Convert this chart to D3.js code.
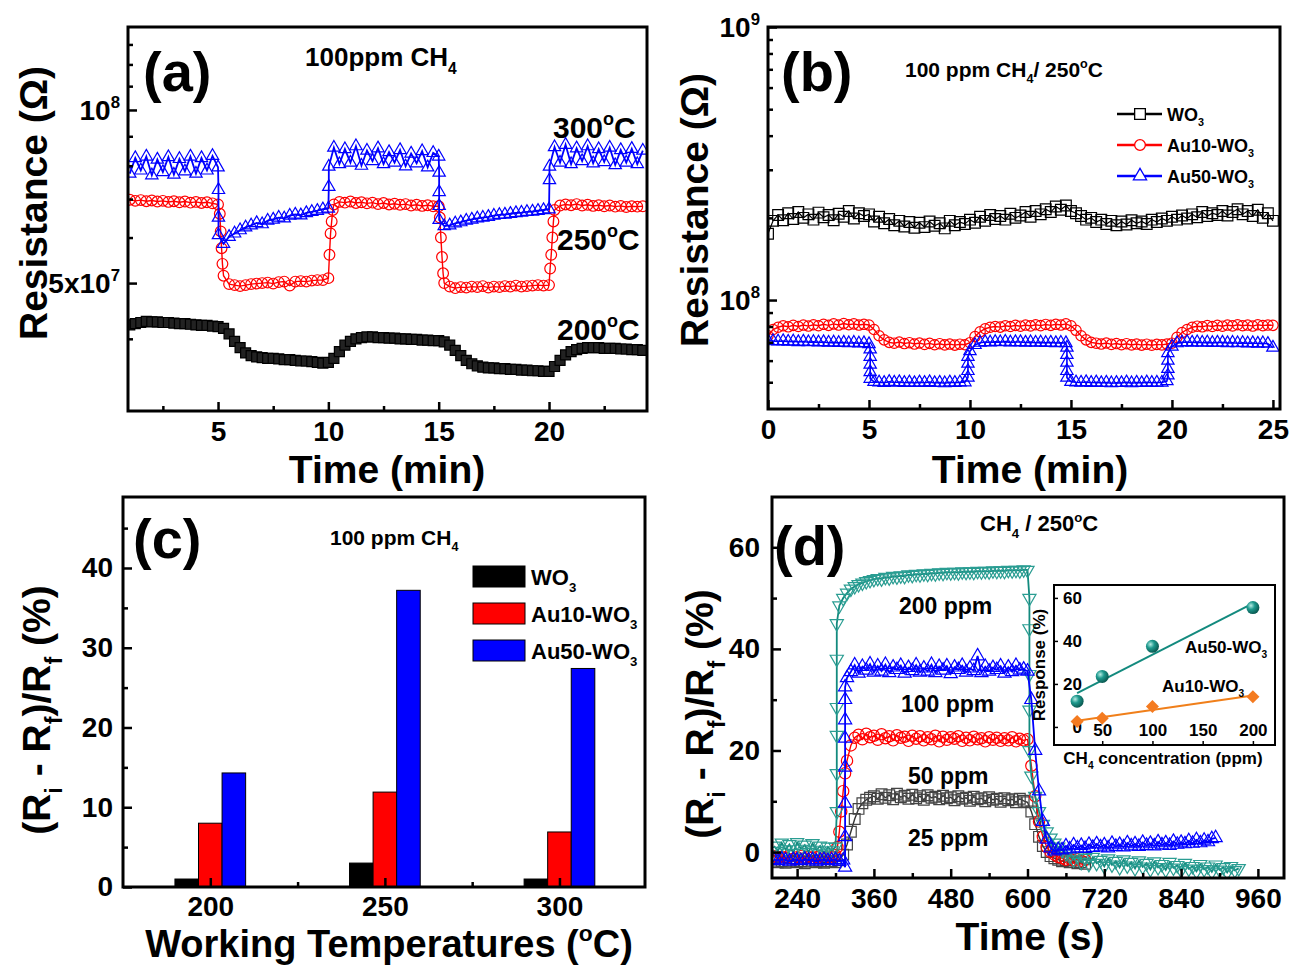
<!DOCTYPE html>
<html><head><meta charset="utf-8">
<script src="https://cdn.jsdelivr.net/npm/d3@7"></script>
<style>
body{margin:0;background:#fff}
text{font-family:"Liberation Sans",Arial,sans-serif;font-weight:bold;fill:#000}
</style></head>
<body><svg id="c" width="1291" height="965"></svg>
<script>
// ================= DATA =================
// Panel (a): resistance (x1e7 ohm) vs time (min), sampled every 0.25 min from 1 min
const aStart = 1, aStep = 0.25;
const a200 = [4.23,4.25,4.27,4.29,4.28,4.28,4.27,4.27,4.26,4.25,4.25,4.24,4.23,4.22,4.22,4.21,4.20,
 4.17,4.08,3.96,3.86,3.78,3.74,3.72,3.71,3.70,3.70,3.69,3.68,3.68,3.67,3.66,3.66,3.65,3.64,3.63,
 3.64,3.70,3.80,3.90,3.96,4.00,4.02,4.03,4.03,4.02,4.02,4.01,4.01,4.00,4.00,3.99,3.99,3.98,3.98,3.97,3.97,
 3.95,3.90,3.82,3.74,3.67,3.62,3.59,3.57,3.56,3.56,3.55,3.55,3.54,3.54,3.53,3.53,3.52,3.52,3.51,3.51,
 3.58,3.67,3.75,3.80,3.83,3.85,3.86,3.86,3.86,3.85,3.85,3.85,3.84,3.84,3.83,3.83,3.82];
const a250 = [6.98,6.95,6.97,6.94,6.96,6.93,6.95,6.92,6.94,6.91,6.93,6.90,6.92,6.89,6.91,6.88,6.85,
 5.15,4.98,4.96,4.94,4.96,4.98,4.99,5.00,5.01,4.99,5.02,5.03,4.95,5.03,5.04,5.03,5.05,5.06,5.06,
 5.10,6.85,6.92,6.90,6.93,6.89,6.91,6.88,6.90,6.86,6.89,6.85,6.87,6.84,6.86,6.82,6.84,6.81,6.83,6.80,6.80,
 5.00,4.93,4.90,4.92,4.91,4.93,4.92,4.94,4.91,4.93,4.92,4.94,4.93,4.95,4.93,4.94,4.95,4.96,4.95,4.96,
 6.70,6.82,6.85,6.83,6.86,6.82,6.84,6.81,6.83,6.80,6.82,6.79,6.81,6.78,6.80,6.79,6.80];
const a250Extra = [[5.08,[6.6]],[5.12,[6.15]],[5.16,[5.75]],[5.2,[5.4]],
 [10.05,[5.6]],[10.1,[6.1]],[10.15,[6.4]],[10.2,[6.7]],
 [15.05,[6.5]],[15.1,[6.0]],[15.15,[5.55]],[15.2,[5.2]],
 [20.05,[5.3]],[20.1,[5.6]],[20.15,[6.0]],[20.2,[6.4]]];
const a300 = [7.75,8.25,7.85,8.30,7.70,8.20,7.80,8.28,7.72,8.22,7.82,8.30,7.75,8.25,7.85,8.32,7.95,
 5.85,6.02,6.10,6.18,6.25,6.30,6.36,6.33,6.42,6.45,6.50,6.48,6.55,6.58,6.56,6.62,6.65,6.68,6.72,
 6.74,
 8.60,8.05,8.55,8.10,8.65,8.00,8.50,8.15,8.58,8.05,8.45,8.10,8.52,7.98,8.40,8.08,8.48,7.95,8.42,
 8.30,
 6.28,6.30,6.35,6.38,6.42,6.45,6.48,6.50,6.52,6.55,6.57,6.58,6.60,6.62,6.63,6.65,6.66,6.68,6.70,
 6.72,
 8.62,8.10,8.70,8.05,8.58,8.15,8.65,8.08,8.55,8.12,8.60,8.02,8.52,8.10,8.56,8.05,8.50];
const a300Extra = [[5.02,[7.26,6.5,6.06]],[10.02,[7.35,7.97]],[15.02,[7.78,7.2,6.81,6.44]],[20.02,[7.55,7.97]]];
const aXTicks = [5,10,15,20];

// Panel (b): resistance (x1e7 ohm) vs time (min), every 0.25 min from 0
const bStart = 0, bStep = 0.25;
const bWO3 = [17.5,19.5,20.5,19.6,20.8,19.8,21.0,20.0,20.6,19.7,
 20.9,20.1,20.5,19.6,20.7,20.2,21.2,19.9,20.8,20.3,
 20.6,19.4,20.2,19.1,19.8,18.8,19.5,18.6,19.3,18.4,
 19.2,18.5,19.4,18.7,19.1,18.3,19.5,18.8,19.3,19.0,
 19.7,19.2,20.2,19.5,20.5,19.8,20.3,19.7,20.7,20.0,
 20.4,21.0,20.2,21.2,20.6,21.5,21.0,22.0,21.4,22.2,
 21.2,20.8,20.3,19.7,20.0,19.3,19.7,19.0,19.5,18.8,
 19.4,18.9,19.6,19.1,19.4,19.0,19.7,19.3,19.9,19.5,
 20.2,19.7,20.4,19.9,20.6,20.1,21.0,20.3,20.8,20.5,
 21.2,20.4,21.0,21.5,20.6,21.2,20.3,21.4,20.0,20.8,19.5];
const bAu10 = [7.40,7.80,7.95,8.05,7.98,8.08,8.00,8.10,8.03,8.12,
 8.05,8.15,8.08,8.18,8.10,8.20,8.12,8.18,8.10,8.15,
 8.10,7.80,7.40,7.15,7.00,6.95,7.02,6.93,6.98,6.90,
 6.96,6.88,6.94,6.86,6.92,6.85,6.90,6.84,6.89,6.86,
 6.98,7.35,7.65,7.85,7.95,8.00,7.96,8.05,8.00,8.08,
 8.02,8.10,8.04,8.12,8.06,8.14,8.08,8.15,8.10,8.18,
 8.05,7.75,7.40,7.15,7.00,6.95,6.90,6.96,6.88,6.93,
 6.86,6.92,6.85,6.90,6.84,6.89,6.83,6.88,6.85,6.90,
 6.95,7.30,7.60,7.80,7.95,8.02,7.98,8.06,8.00,8.08,
 8.02,8.10,8.04,8.12,8.05,8.10,8.03,8.12,8.06,8.10,8.08];
const bAu50 = [7.10,7.08,7.06,7.08,7.04,7.06,7.02,7.05,7.01,7.03,
 7.00,7.02,6.98,7.00,6.97,6.99,6.95,6.98,6.94,6.96,
 6.90,5.02,5.00,4.98,5.02,4.99,5.01,4.98,5.00,4.97,
 5.00,4.98,5.01,4.97,4.99,4.96,5.00,4.98,5.00,5.00,
 6.50,6.85,6.98,7.02,7.00,7.03,7.01,7.04,7.00,7.02,
 7.02,6.99,7.01,6.98,7.00,6.97,6.99,6.96,6.98,6.96,
 5.02,5.00,4.99,5.01,4.98,5.00,4.97,4.99,4.96,4.98,
 4.97,5.00,4.96,4.99,4.97,5.00,4.98,4.99,4.99,5.05,
 6.75,6.95,7.00,7.02,6.99,7.01,6.98,7.00,6.97,6.99,
 6.99,6.96,6.98,6.95,6.97,6.94,6.96,6.93,6.95,6.92,6.70];
const bAu50Extra = [[5.06,[6.6,6.2,5.8,5.45,5.15]],[9.9,[5.2,5.5,5.85,6.2]],[14.8,[6.7,6.3,5.9,5.5,5.2]],[19.8,[5.3,5.6,6.0,6.4]]];
const bXTicks = [0,5,10,15,20,25];
const bLegend = ["WO3","Au10-WO3","Au50-WO3"];

// Panel (c): response (%) vs working temperature
const cTemps = [200,250,300];
const cWO3  = [1.0,3.0,1.0];
const cAu10 = [8.0,11.9,6.9];
const cAu50 = [14.3,37.2,27.4];
const cYTicks = [0,10,20,30,40];

// Panel (d): response (%) vs time (s), every 6 s from 204 s
const dStart = 204, dStep = 6;
const d25 = [-1.7,-2.0,-1.8,-2.1,-1.9,-1.7,-2.0,-1.8,-2.2,-1.9,-1.7,-2.0,-1.8,-2.1,-1.9,-1.8,-2.0,-1.6,
 -0.5,1.5,4.0,6.5,8.5,9.6,10.3,10.7,
 11.0,10.5,11.4,10.7,11.2,10.4,11.5,10.8,11.1,10.5,11.3,10.6,11.0,10.3,11.2,10.7,10.9,10.4,11.1,10.6,
 10.8,10.2,11.0,10.5,10.7,10.1,10.9,10.4,10.6,10.0,10.8,10.3,10.5,9.9,10.6,10.2,10.4,9.8,10.5,10.1,9.8,
 8.0,5.5,3.0,1.2,0.0,-0.8,
 -1.2,-1.5,-1.8,-1.6,-2.0,-1.9,-2.2,-2.0,-2.3];
const d50 = [-0.8,-1.2,-0.9,-1.1,-0.7,-1.3,-1.0,-0.8,-1.2,-0.9,-1.1,-1.0,-0.8,-1.2,-0.9,-1.0,-0.6,
 4,12,18,21,
 22.5,23.1,22.2,23.3,22.6,22.9,22.1,23.2,22.4,22.8,22.0,23.0,22.5,22.7,21.9,22.9,22.3,22.8,22.0,22.6,
 22.2,22.9,21.8,22.7,22.1,22.6,22.3,22.8,21.9,22.5,22.0,22.7,22.2,22.4,21.8,22.6,22.1,22.5,21.9,22.4,
 22.0,22.6,21.8,22.3,22.0,22.2,
 17,11,6,3,1,0,
 -0.5,-1.0,-1.2,-1.5,-1.3,-1.6,-1.4,-1.7,-1.5];
const d50Extra = [[303,[1]],[309,[8]],[315,[15.5]]];
const d100 = [-1.5,-1.7,-1.4,-1.6,-1.8,-1.5,-1.6,-1.7,-1.4,-1.6,-1.5,-1.8,-1.6,-1.5,-1.7,-1.6,-1.5,-1.8,-1.6,
 34.3,
 35.5,36.8,35.2,36.5,35.8,37.0,35.4,36.6,35.6,36.9,35.3,36.4,35.9,36.7,35.2,36.3,35.7,36.8,35.4,36.2,
 35.6,36.9,35.3,36.5,35.8,36.6,35.1,36.4,35.9,36.7,35.4,36.2,35.7,38.6,35.3,36.5,35.6,36.3,35.9,36.6,
 35.2,36.4,35.5,36.7,35.8,36.0,35.6,
 30,20,12,6,2.5,0.8,0.2,0.5,
 0.4,1.2,0.6,1.4,0.8,1.3,0.7,1.5,0.9,1.6,1.0,1.4,0.8,1.7,1.1,1.5,1.0,1.8,1.2,1.6,
 1.1,1.9,1.3,1.7,1.2,2.0,1.4,1.8,1.3,2.1,1.5,1.9,1.6,2.2,1.7,2.4,1.8,2.3,2.0,2.6,2.8];
const d100Extra = [[315,[-3,3,9.6,16.7,22.4,26,30,32.5]]];
const d200 = [1.2,0.2,1.8,0.5,1.5,-0.2,1.9,0.6,1.4,0.0,1.7,0.4,1.2,-0.3,1.0,0.3,
 1.0,
 48.5,50.0,51.0,51.8,52.3,52.7,53.0,53.3,53.5,
 53.7,53.9,53.8,54.1,54.0,54.3,54.2,54.4,54.3,54.6,54.5,54.7,54.6,54.8,54.7,54.9,54.8,55.0,54.9,55.1,
 55.0,55.1,55.0,55.2,55.1,55.2,55.1,55.3,55.2,55.3,55.2,55.4,55.3,55.4,55.3,55.5,55.4,55.5,55.4,55.6,55.5,
 15.0,11.0,8.0,5.5,4.0,2.8,1.8,1.0,0.3,-0.3,
 -0.8,-1.5,-0.9,-2.0,-1.2,-2.4,-1.0,-2.2,-1.6,-2.8,-1.3,-2.5,-1.8,-3.0,-1.5,-2.7,-2.0,-3.2,-1.7,-2.9,
 -2.2,-3.4,-1.9,-3.0,-2.4,-3.5,-2.0,-3.1,-2.6,-3.6,-2.2,-3.3,-2.8,-3.8,-2.4,-3.4,-2.9,-3.9,-2.5,-3.5,
 -3.0,-4.0,-2.8,-3.6,-3.2];
const d200Extra = [[302,[8,15.5,23,28.5,38,45]],[603,[50,44,35,28,20]]];
const dXTicks = [240,360,480,600,720,840,960];
const dYTicks = [0,20,40,60];
const dLabels = ["200 ppm","100 ppm","50 ppm","25 ppm"];

// Inset of (d): response vs CH4 concentration
const insConc = [25,50,100,200];
const insAu50 = [12,23.5,37.5,55.5];
const insAu10 = [2.5,4,9.5,14];

// ================= HELPERS =================
const svg = d3.select('#c');
svg.append('rect').attr('width',1291).attr('height',965).attr('fill','#fff');
const defs = svg.append('defs');

function build(start, step, vals, extras) {
  const pts = vals.map((v,i)=>({t:start+i*step, v}));
  (extras||[]).forEach(([t,vs])=>vs.forEach(v=>pts.push({t,v})));
  pts.sort((a,b)=>a.t-b.t);
  return pts;
}
function txt(g, x, y, parts, size, opts) {
  opts = opts||{};
  const t = g.append('text').attr('x',x).attr('y',y).attr('font-size',size)
    .attr('text-anchor',opts.anchor||'start');
  if (opts.transform) t.attr('transform',opts.transform);
  if (typeof parts==='string') parts=[[parts]];
  let cur=0;
  parts.forEach(([s,k])=>{
    const off = k==='sub'? size*0.3 : k==='sup'? -size*0.42 : 0;
    const ts = t.append('tspan').text(s).attr('dy', off-cur);
    if (k) ts.attr('font-size', size*0.6);
    cur=off;
  });
  return t;
}
function frame(g, L, T, R, B, id) {
  defs.append('clipPath').attr('id',id).append('rect').attr('x',L).attr('y',T).attr('width',R-L).attr('height',B-T);
  return () => g.append('rect').attr('x',L).attr('y',T).attr('width',R-L).attr('height',B-T)
    .attr('fill','none').attr('stroke','#000').attr('stroke-width',3);
}
function styleAxis(sel, fs) {
  sel.select('.domain').remove();
  sel.selectAll('.tick line').attr('stroke','#000').attr('stroke-width',2.5);
  sel.selectAll('.tick text').attr('font-size',fs).attr('fill','#000')
    .attr('font-family','"Liberation Sans",Arial,sans-serif').attr('font-weight','bold');
}
function xAxes(g, x, B, major, minor, fs, pad, fmt) {
  const a = g.append('g').attr('transform',`translate(0,${B})`)
    .call(d3.axisBottom(x).tickValues(major).tickSize(-9).tickPadding(pad).tickFormat(fmt||d3.format('d')));
  styleAxis(a, fs);
  const m = g.append('g').attr('transform',`translate(0,${B})`)
    .call(d3.axisBottom(x).tickValues(minor).tickSize(-5).tickFormat(''));
  styleAxis(m, fs);
}
function yAxes(g, y, L, major, minor, fs, pad, fmt) {
  const a = g.append('g').attr('transform',`translate(${L},0)`)
    .call(d3.axisLeft(y).tickValues(major).tickSize(-9).tickPadding(pad).tickFormat(fmt===undefined?d3.format('d'):fmt));
  styleAxis(a, fs);
  const m = g.append('g').attr('transform',`translate(${L},0)`)
    .call(d3.axisLeft(y).tickValues(minor).tickSize(-5).tickFormat(''));
  styleAxis(m, fs);
}
function series(g, pts, x, y, o) {
  g.append('path').datum(pts).attr('d', d3.line().x(d=>x(d.t)).y(d=>y(d.v)))
    .attr('fill','none').attr('stroke',o.line||o.color).attr('stroke-width',o.lw||1.4);
  g.selectAll(null).data(pts).join('path')
    .attr('transform', d=>`translate(${x(d.t)},${y(d.v)})${o.rot?' rotate(180)':''}`)
    .attr('d', d3.symbol().type(o.sym).size(o.size))
    .attr('fill', o.fill||'none').attr('stroke', o.color).attr('stroke-width', o.sw||1.2);
}
const FS_TICK = 28, FS_TITLE = 39, FS_PANEL = 56;
const TRI = d3.symbolTriangle, CIR = d3.symbolCircle, SQ = d3.symbolSquare;

// ================= PANEL (a) =================
{
  const L=128,T=27,R=647,B=411;
  const g = svg.append('g');
  const x = d3.scaleLinear().domain([0.92,24.44]).range([L,R]);
  const y = d3.scaleLog().domain([2.996,13.94]).range([B,T]);
  const drawFrame = frame(g,L,T,R,B,'clipA');
  const dg = g.append('g').attr('clip-path','url(#clipA)');
  series(dg, build(aStart,aStep,a200), x, y, {color:'#000', sym:SQ, size:100, fill:'#222', lw:4});
  series(dg, build(aStart,aStep,a250,a250Extra), x, y, {color:'#ff0000', sym:CIR, size:90, fill:'none'});
  series(dg, build(aStart,aStep,a300,a300Extra), x, y, {color:'#0000ff', sym:TRI, size:66, fill:'none', lw:1.8});
  xAxes(g, x, B, aXTicks, [2.5,7.5,12.5,17.5,22.5], FS_TICK, 10);
  yAxes(g, y, L, [5,10], [4,6,7,8,9,11,12,13], FS_TICK, 10, '');
  txt(g, L-8, y(10)+10, [['10'],['8','sup']], FS_TICK, {anchor:'end'});
  txt(g, L-8, y(5)+10, [['5x10'],['7','sup']], FS_TICK, {anchor:'end'});
  drawFrame();
  txt(g, 143, 91, '(a)', FS_PANEL);
  txt(g, 305, 66, [['100ppm CH'],['4','sub']], 26);
  txt(g, 553, 138, [['300'],['o','sup'],['C']], 30);
  txt(g, 557, 250, [['250'],['o','sup'],['C']], 30);
  txt(g, 557, 340, [['200'],['o','sup'],['C']], 30);
  txt(g, 0, 0, 'Resistance (Ω)', FS_TITLE, {anchor:'middle', transform:'translate(47,203) rotate(-90)'});
  txt(g, 387, 483, 'Time (min)', FS_TITLE, {anchor:'middle'});
}

// ================= PANEL (b) =================
{
  const L=768,T=27,R=1280,B=409;
  const g = svg.append('g');
  const x = d3.scaleLinear().domain([0,25.35]).range([L,R]);
  const y = d3.scaleLog().domain([3.99,100]).range([B,T]);
  const drawFrame = frame(g,L,T,R,B,'clipB');
  const dg = g.append('g').attr('clip-path','url(#clipB)');
  series(dg, build(bStart,bStep,bWO3), x, y, {color:'#000', sym:SQ, size:115, fill:'none', lw:1.2});
  series(dg, build(bStart,bStep,bAu10), x, y, {color:'#ff0000', sym:CIR, size:85, fill:'none'});
  series(dg, build(bStart,bStep,bAu50,bAu50Extra), x, y, {color:'#0000ff', sym:TRI, size:66, fill:'none', lw:1.6});
  xAxes(g, x, B, bXTicks, [2.5,7.5,12.5,17.5,22.5], FS_TICK, 10);
  yAxes(g, y, L, [10,100], [5,6,7,8,9,20,30,40,50,60,70,80,90], FS_TICK, 10, '');
  txt(g, L-8, y(100)+10, [['10'],['9','sup']], FS_TICK, {anchor:'end'});
  txt(g, L-8, y(10)+10, [['10'],['8','sup']], FS_TICK, {anchor:'end'});
  drawFrame();
  txt(g, 781, 91, '(b)', FS_PANEL);
  txt(g, 905, 77, [['100 ppm CH'],['4','sub'],['/ 250'],['o','sup'],['C']], 21);
  const lg = g.append('g');
  const syms = [[SQ,'#000',115],[CIR,'#ff0000',90],[TRI,'#0000ff',75]];
  bLegend.forEach((name,i)=>{
    const yy = 114 + i*31;
    lg.append('line').attr('x1',1117).attr('x2',1162).attr('y1',yy).attr('y2',yy).attr('stroke',syms[i][1]).attr('stroke-width',2.5);
    lg.append('path').attr('transform',`translate(1140,${yy})`).attr('d',d3.symbol().type(syms[i][0]).size(syms[i][2]))
      .attr('fill','#fff').attr('stroke',syms[i][1]).attr('stroke-width',1.3);
    txt(lg, 1167, yy+7, [[name.slice(0,-1)],['3','sub']], 18);
  });
  txt(g, 0, 0, 'Resistance (Ω)', FS_TITLE, {anchor:'middle', transform:'translate(708,210) rotate(-90)'});
  txt(g, 1030, 483, 'Time (min)', FS_TITLE, {anchor:'middle'});
}

// ================= PANEL (c) =================
{
  const L=123,T=497,R=645,B=887;
  const g = svg.append('g');
  const x = d3.scaleLinear().domain([175,324.5]).range([L,R]);
  const y = d3.scaleLinear().domain([0,48.9]).range([B,T]);
  const drawFrame = frame(g,L,T,R,B,'clipC');
  const bw = 6.75;
  const groups = [[cWO3,'#000000',-1],[cAu10,'#ff0000',0],[cAu50,'#0000ff',1]];
  groups.forEach(([vals,col,off])=>{
    g.selectAll(null).data(cTemps.map((t,i)=>({t,v:vals[i]}))).join('rect')
      .attr('x', d=>x(d.t + off*bw - bw/2)).attr('width', d=>x(d.t+bw/2)-x(d.t-bw/2))
      .attr('y', d=>y(d.v)).attr('height', d=>y(0)-y(d.v))
      .attr('fill',col).attr('stroke','#000').attr('stroke-width',1);
  });
  xAxes(g, x, B, cTemps, [225,275], FS_TICK, 9);
  yAxes(g, y, L, cYTicks, [5,15,25,35,45], FS_TICK, 10);
  drawFrame();
  txt(g, 133, 558, '(c)', FS_PANEL);
  txt(g, 330, 545, [['100 ppm CH'],['4','sub']], 21);
  const lnames = ['WO3','Au10-WO3','Au50-WO3'], lcols=['#000','#ff0000','#0000ff'];
  lnames.forEach((n,i)=>{
    const yy = 566 + i*37;
    g.append('rect').attr('x',473).attr('y',yy).attr('width',52).attr('height',21).attr('fill',lcols[i]).attr('stroke','#000').attr('stroke-width',1);
    txt(g, 531, yy+19, [[n.slice(0,-1)],['3','sub']], 22);
  });
  txt(g, 0, 0, [['(R'],['i','sub'],[' - R'],['f','sub'],[')/R'],['f','sub'],[' (%)']], FS_TITLE,
      {anchor:'middle', transform:'translate(50,710) rotate(-90)'});
  txt(g, 389, 956.5, [['Working Temperatures ('],['o','sup'],['C)']], 38, {anchor:'middle'});
}

// ================= PANEL (d) =================
{
  const L=772,T=497,R=1284,B=878;
  const g = svg.append('g');
  const x = d3.scaleLinear().domain([200,1000]).range([771.5,1283.5]);
  const y = d3.scaleLinear().domain([-5.1,69.9]).range([B,T]);
  const drawFrame = frame(g,L,T,R,B,'clipD');
  const dg = g.append('g').attr('clip-path','url(#clipD)');
  series(dg, build(dStart,dStep,d25), x, y, {color:'#444', line:'#333', sym:SQ, size:115, fill:'none'});
  series(dg, build(dStart,dStep,d50,d50Extra), x, y, {color:'#ff0000', sym:CIR, size:100, fill:'none'});
  series(dg, build(dStart,dStep,d200,d200Extra), x, y, {color:'#2a9d92', line:'#138a7e', sym:TRI, size:75, fill:'none', rot:true, lw:1.8});
  series(dg, build(dStart,dStep,d100,d100Extra), x, y, {color:'#0000ff', sym:TRI, size:75, fill:'none', lw:1.8});
  xAxes(g, x, B, dXTicks, [300,420,540,660,780,900], FS_TICK, 10);
  yAxes(g, y, L, dYTicks, [10,30,50], FS_TICK, 12);
  drawFrame();
  txt(g, 774, 565, '(d)', FS_PANEL);
  txt(g, 980, 531, [['CH'],['4','sub'],[' / 250'],['o','sup'],['C']], 22);
  const lp = [[899,614],[901,712],[908,784],[908,846]];
  dLabels.forEach((s,i)=>txt(g, lp[i][0], lp[i][1], s, 23));
  txt(g, 0, 0, [['(R'],['i','sub'],[' - R'],['f','sub'],[')/R'],['f','sub'],[' (%)']], FS_TITLE,
      {anchor:'middle', transform:'translate(713,714) rotate(-90)'});
  txt(g, 1030, 950, 'Time (s)', FS_TITLE, {anchor:'middle'});

  // ---- inset ----
  const iL=1054,iT=585,iR=1275,iB=745;
  const xi = d3.scaleLinear().domain([2,222]).range([iL,iR]);
  const yi = d3.scaleLinear().domain([-8.4,66]).range([iB,iT]);
  const ig = g.append('g');
  const ax = ig.append('g').attr('transform',`translate(0,${iB})`)
    .call(d3.axisBottom(xi).tickValues([50,100,150,200]).tickSize(-4).tickPadding(-21));
  styleAxis(ax, 17); ax.selectAll('.tick line').attr('stroke-width',1.5);
  const ay = ig.append('g').attr('transform',`translate(${iL},0)`)
    .call(d3.axisLeft(yi).tickValues([0,20,40,60]).tickSize(-4).tickPadding(-28));
  styleAxis(ay, 17); ay.selectAll('.tick line').attr('stroke-width',1.5);
  ig.append('rect').attr('x',iL).attr('y',iT).attr('width',iR-iL).attr('height',iB-iT)
    .attr('fill','none').attr('stroke','#000').attr('stroke-width',2);
  function fit(xs, ys){
    const mx=d3.mean(xs), my=d3.mean(ys);
    const b=d3.sum(xs.map((v,i)=>(v-mx)*(ys[i]-my)))/d3.sum(xs.map(v=>(v-mx)*(v-mx)));
    return [d3.min(xs),d3.max(xs)].map(v=>({c:v, r:my+b*(v-mx)}));
  }
  const ln = d3.line().x(d=>xi(d.c)).y(d=>yi(d.r));
  ig.append('path').attr('d', ln(fit(insConc,insAu50))).attr('stroke','#138a7e').attr('stroke-width',2).attr('fill','none');
  ig.append('path').attr('d', ln(fit(insConc,insAu10))).attr('stroke','#f07f1a').attr('stroke-width',2).attr('fill','none');
  const grad = defs.append('radialGradient').attr('id','ball').attr('cx','35%').attr('cy','35%').attr('r','65%');
  grad.append('stop').attr('offset','0%').attr('stop-color','#b8ece4');
  grad.append('stop').attr('offset','45%').attr('stop-color','#1e9a8e');
  grad.append('stop').attr('offset','100%').attr('stop-color','#0b5c54');
  ig.selectAll(null).data(insConc.map((c,i)=>({c,r:insAu50[i]}))).join('circle')
    .attr('cx',d=>xi(d.c)).attr('cy',d=>yi(d.r)).attr('r',6.5).attr('fill','url(#ball)');
  ig.selectAll(null).data(insConc.map((c,i)=>({c,r:insAu10[i]}))).join('path')
    .attr('transform',d=>`translate(${xi(d.c)},${yi(d.r)}) rotate(45)`)
    .attr('d', d3.symbol().type(SQ).size(85)).attr('fill','#f47b20');
  txt(ig, 1185, 653, [['Au50-WO'],['3','sub']], 17);
  txt(ig, 1162, 692, [['Au10-WO'],['3','sub']], 17);
  txt(ig, 0, 0, 'Response (%)', 17, {anchor:'middle', transform:'translate(1045,665) rotate(-90)'});
  txt(ig, 1163, 764, [['CH'],['4','sub'],[' concentration (ppm)']], 17, {anchor:'middle'});
}
</script></body></html>
